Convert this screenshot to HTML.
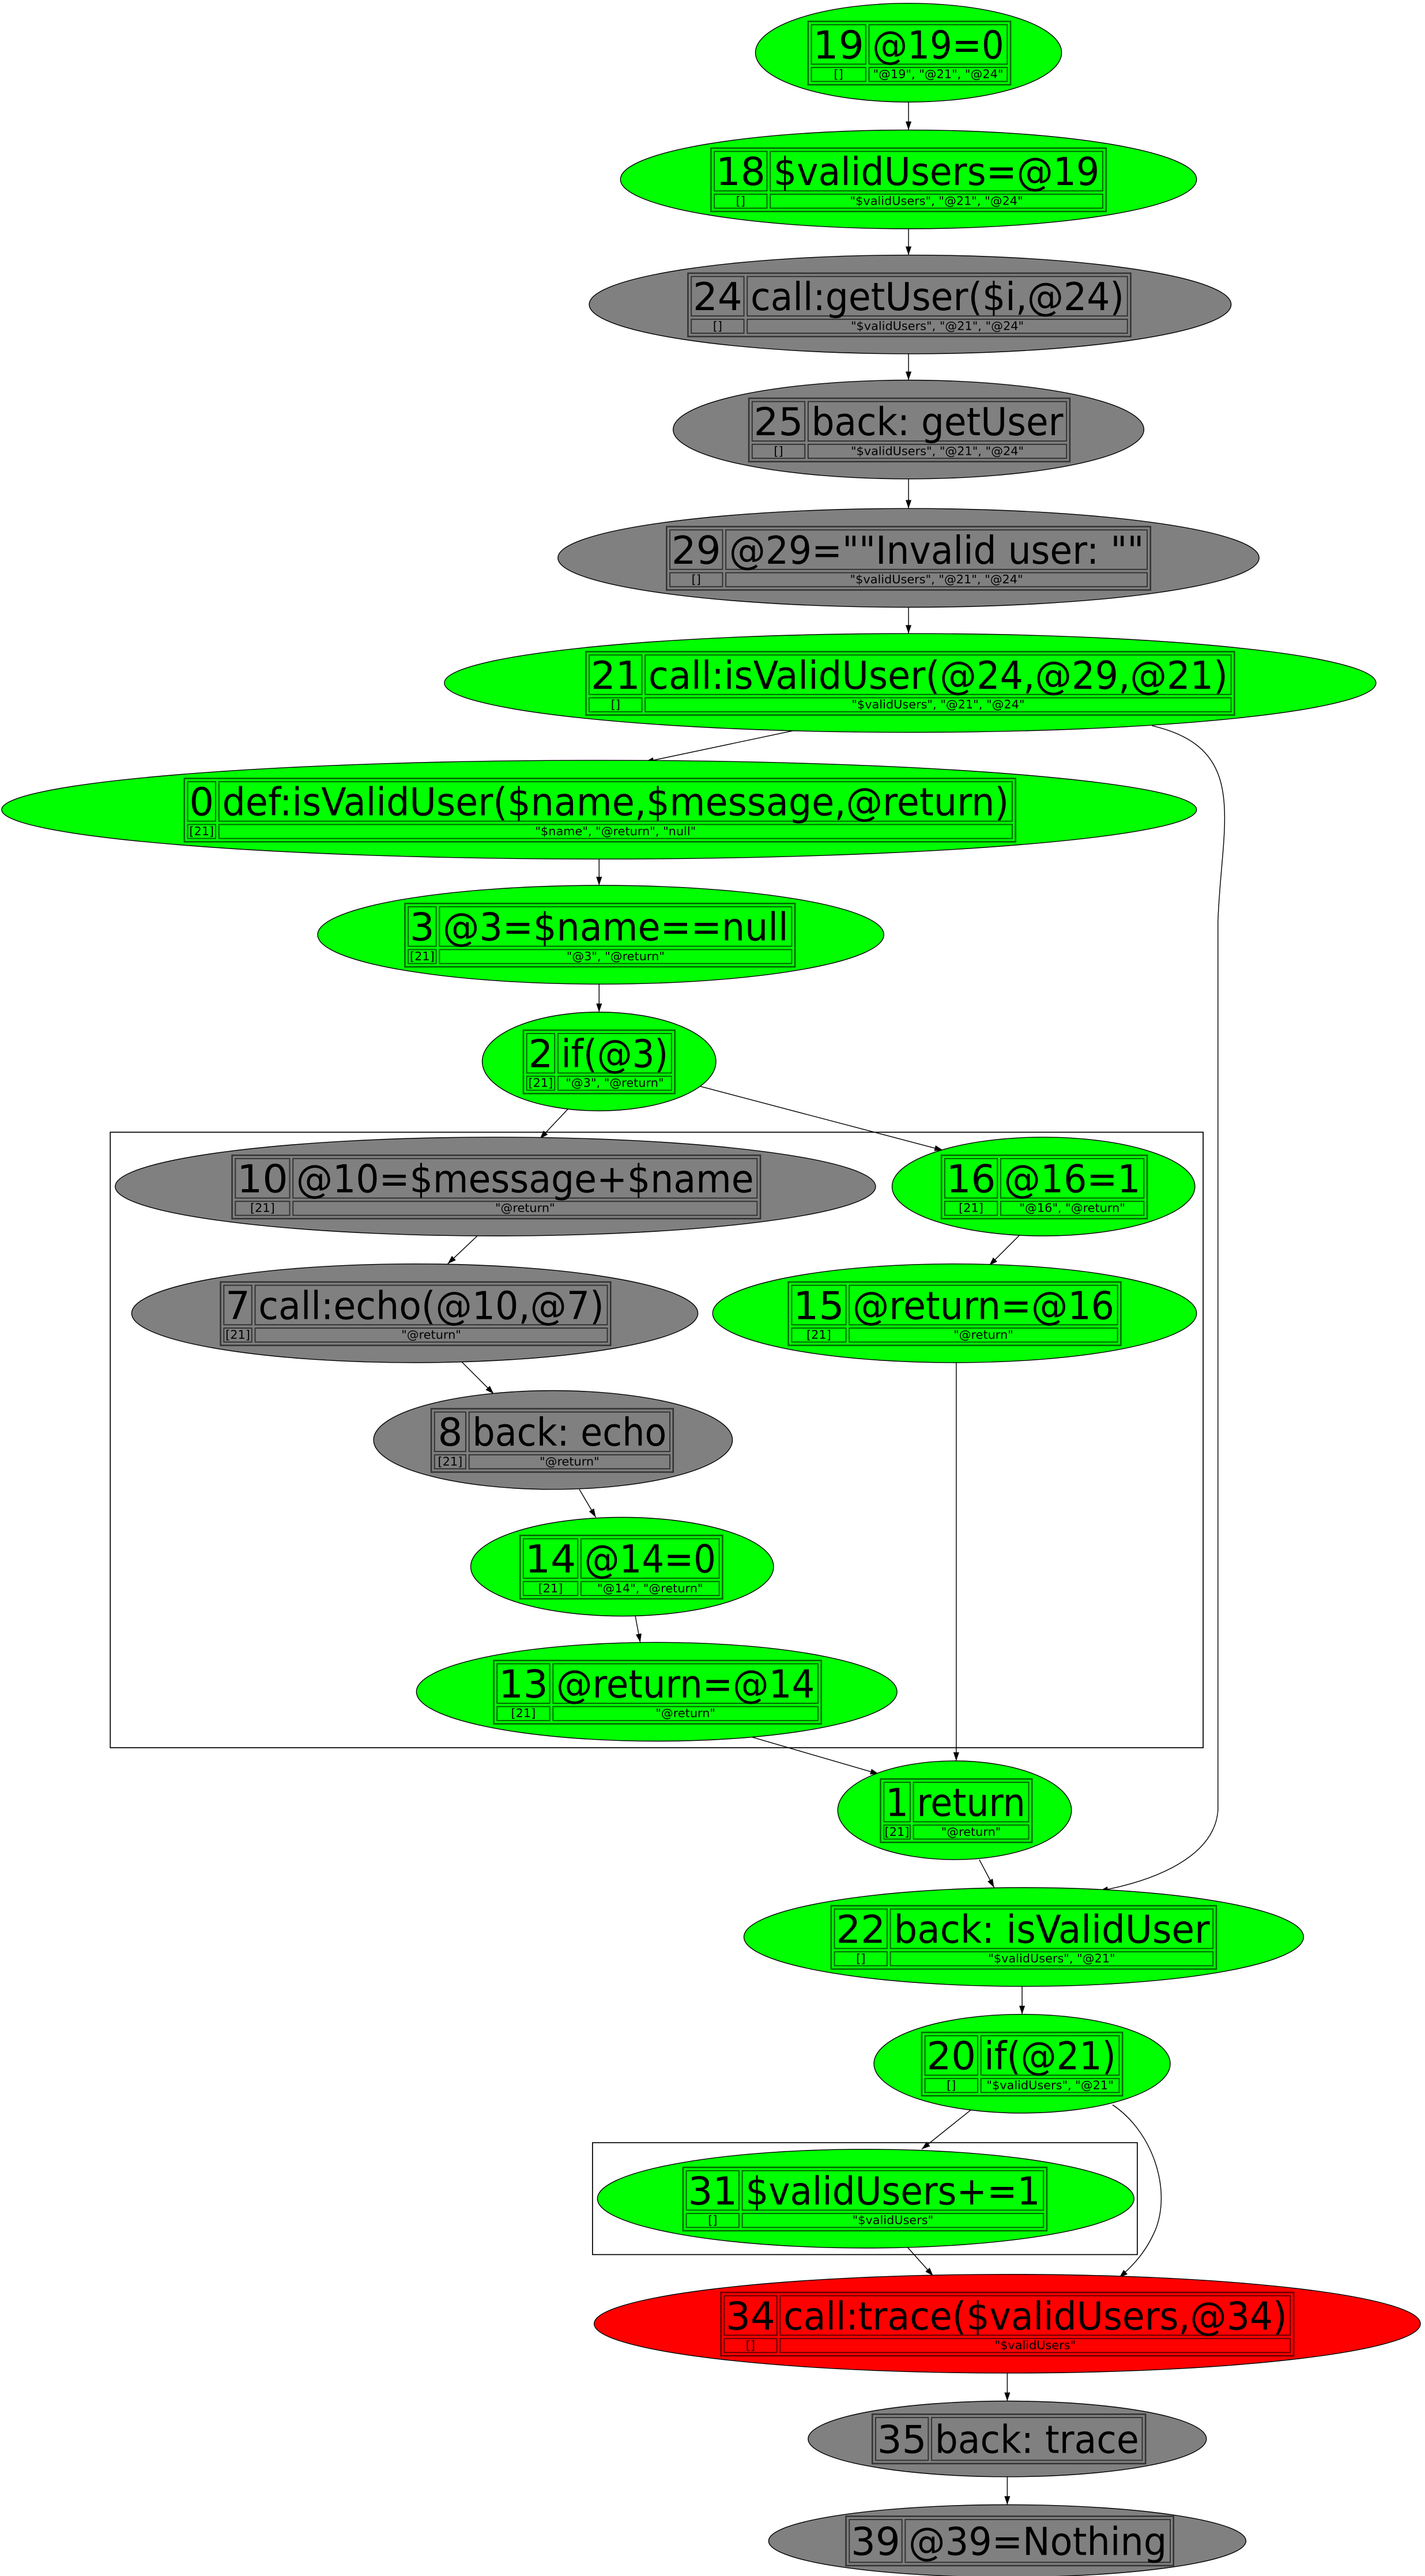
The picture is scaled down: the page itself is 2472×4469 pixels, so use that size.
<!DOCTYPE html>
<html><head><meta charset="utf-8"><style>
html,body{margin:0;padding:0;background:#fff;}
svg{display:block;}
text{font-family:"DejaVu Sans","Liberation Sans",sans-serif;fill:#000;}
.b{font-size:23.5px;}
.s{font-size:7.3px;}
.e{fill:none;stroke:#000;stroke-width:0.5;}
.t{fill:none;stroke:#000;stroke-opacity:0.6;stroke-width:0.9;}
.c{fill:none;stroke:#000;stroke-opacity:0.6;stroke-width:0.7;}
</style></head><body>
<svg width="2472" height="4469" viewBox="0 0 865.8 1565.3" preserveAspectRatio="none" xmlns="http://www.w3.org/2000/svg">
<defs><marker id="a" viewBox="0 0 10 10" refX="10" refY="5" markerWidth="5.2" markerHeight="5.2" markerUnits="userSpaceOnUse" orient="auto"><path d="M0,1.6 L10,5 L0,8.4 z" fill="#000"/></marker></defs>
<rect x="0" y="0" width="865.8" height="1565.3" fill="#fff"/>
<rect x="67" y="688" width="664" height="374" fill="none" stroke="#000" stroke-width="0.6"/>
<rect x="360" y="1302" width="331" height="68" fill="none" stroke="#000" stroke-width="0.6"/>
<g class="e" marker-end="url(#a)">
<path d="M552,62 L552,79"/>
<path d="M552,139 L552,155"/>
<path d="M552,215 L552,231"/>
<path d="M552,291 L552,309"/>
<path d="M552,369 L552,385"/>
<path d="M482,444 L392,463"/>
<path d="M700,441 C760,455 742,500 740,560 L740,1100 C738,1128 702,1143 668,1149"/>
<path d="M364,521 L364,538"/>
<path d="M364,598 L364,615"/>
<path d="M345,674 L328,692"/>
<path d="M425,660 L573,699"/>
<path d="M290,751 L272,768"/>
<path d="M280,827 L300,847"/>
<path d="M352,905 L362,922"/>
<path d="M386,982 L389,998"/>
<path d="M620,750 L601,769"/>
<path d="M581,828 L581,1070"/>
<path d="M455,1055 L534,1078"/>
<path d="M595,1130 L604,1147"/>
<path d="M621,1207 L621,1224"/>
<path d="M590,1282 L560,1306"/>
<path d="M676,1279 C700,1295 712,1330 702,1355 C696,1369 688,1377 680,1384"/>
<path d="M550,1364 L567,1383"/>
<path d="M612,1442 L612,1459"/>
<path d="M612,1505 L612,1522"/>
</g>
<g>
<ellipse cx="552" cy="32" rx="93" ry="30" fill="#00ff00" stroke="#000" stroke-width="0.5"/>
<rect class="t" x="491" y="13" width="123" height="38.5"/><rect class="c" x="493" y="15" width="33" height="24"/><rect class="c" x="528" y="15" width="84" height="24"/><rect class="c" x="493" y="41" width="33" height="8.5"/><rect class="c" x="528" y="41" width="84" height="8.5"/>
<text class="b" x="509.5" y="35.5" text-anchor="middle" textLength="31" lengthAdjust="spacingAndGlyphs">19</text><text class="b" x="570" y="35.5" text-anchor="middle" textLength="80" lengthAdjust="spacingAndGlyphs">@19=0</text>
<text class="s" x="509.5" y="47.5" text-anchor="middle">[]</text><text class="s" x="570" y="47.5" text-anchor="middle">"@19", "@21", "@24"</text>
<ellipse cx="552" cy="109" rx="175" ry="30" fill="#00ff00" stroke="#000" stroke-width="0.5"/>
<rect class="t" x="432" y="90" width="240" height="38.5"/><rect class="c" x="434" y="92" width="32" height="24"/><rect class="c" x="468" y="92" width="202" height="24"/><rect class="c" x="434" y="118" width="32" height="8.5"/><rect class="c" x="468" y="118" width="202" height="8.5"/>
<text class="b" x="450" y="112.5" text-anchor="middle" textLength="30" lengthAdjust="spacingAndGlyphs">18</text><text class="b" x="569" y="112.5" text-anchor="middle" textLength="198" lengthAdjust="spacingAndGlyphs">$validUsers=@19</text>
<text class="s" x="450" y="124.5" text-anchor="middle">[]</text><text class="s" x="569" y="124.5" text-anchor="middle">"$validUsers", "@21", "@24"</text>
<ellipse cx="553" cy="185" rx="195" ry="30" fill="#808080" stroke="#000" stroke-width="0.5"/>
<rect class="t" x="418" y="166" width="269" height="38.5"/><rect class="c" x="420" y="168" width="32" height="24"/><rect class="c" x="454" y="168" width="231" height="24"/><rect class="c" x="420" y="194" width="32" height="8.5"/><rect class="c" x="454" y="194" width="231" height="8.5"/>
<text class="b" x="436" y="188.5" text-anchor="middle" textLength="30" lengthAdjust="spacingAndGlyphs">24</text><text class="b" x="569.5" y="188.5" text-anchor="middle" textLength="227" lengthAdjust="spacingAndGlyphs">call:getUser($i,@24)</text>
<text class="s" x="436" y="200.5" text-anchor="middle">[]</text><text class="s" x="569.5" y="200.5" text-anchor="middle">"$validUsers", "@21", "@24"</text>
<ellipse cx="552" cy="261" rx="143" ry="30" fill="#808080" stroke="#000" stroke-width="0.5"/>
<rect class="t" x="455" y="242" width="195" height="38.5"/><rect class="c" x="457" y="244" width="32" height="24"/><rect class="c" x="491" y="244" width="157" height="24"/><rect class="c" x="457" y="270" width="32" height="8.5"/><rect class="c" x="491" y="270" width="157" height="8.5"/>
<text class="b" x="473" y="264.5" text-anchor="middle" textLength="30" lengthAdjust="spacingAndGlyphs">25</text><text class="b" x="569.5" y="264.5" text-anchor="middle" textLength="153" lengthAdjust="spacingAndGlyphs">back: getUser</text>
<text class="s" x="473" y="276.5" text-anchor="middle">[]</text><text class="s" x="569.5" y="276.5" text-anchor="middle">"$validUsers", "@21", "@24"</text>
<ellipse cx="552" cy="339" rx="213" ry="30" fill="#808080" stroke="#000" stroke-width="0.5"/>
<rect class="t" x="405" y="320" width="294" height="38.5"/><rect class="c" x="407" y="322" width="32" height="24"/><rect class="c" x="441" y="322" width="256" height="24"/><rect class="c" x="407" y="348" width="32" height="8.5"/><rect class="c" x="441" y="348" width="256" height="8.5"/>
<text class="b" x="423" y="342.5" text-anchor="middle" textLength="30" lengthAdjust="spacingAndGlyphs">29</text><text class="b" x="569" y="342.5" text-anchor="middle" textLength="252" lengthAdjust="spacingAndGlyphs">@29=""Invalid user: ""</text>
<text class="s" x="423" y="354.5" text-anchor="middle">[]</text><text class="s" x="569" y="354.5" text-anchor="middle">"$validUsers", "@21", "@24"</text>
<ellipse cx="553" cy="415" rx="283" ry="30" fill="#00ff00" stroke="#000" stroke-width="0.5"/>
<rect class="t" x="356" y="396" width="394" height="38.5"/><rect class="c" x="358" y="398" width="32" height="24"/><rect class="c" x="392" y="398" width="356" height="24"/><rect class="c" x="358" y="424" width="32" height="8.5"/><rect class="c" x="392" y="424" width="356" height="8.5"/>
<text class="b" x="374" y="418.5" text-anchor="middle" textLength="30" lengthAdjust="spacingAndGlyphs">21</text><text class="b" x="570" y="418.5" text-anchor="middle" textLength="352" lengthAdjust="spacingAndGlyphs">call:isValidUser(@24,@29,@21)</text>
<text class="s" x="374" y="430.5" text-anchor="middle">[]</text><text class="s" x="570" y="430.5" text-anchor="middle">"$validUsers", "@21", "@24"</text>
<ellipse cx="364" cy="492" rx="363" ry="30" fill="#00ff00" stroke="#000" stroke-width="0.5"/>
<rect class="t" x="112" y="473" width="505" height="38.5"/><rect class="c" x="114" y="475" width="17" height="24"/><rect class="c" x="133" y="475" width="482" height="24"/><rect class="c" x="114" y="501" width="17" height="8.5"/><rect class="c" x="133" y="501" width="482" height="8.5"/>
<text class="b" x="122.5" y="495.5" text-anchor="middle" textLength="15" lengthAdjust="spacingAndGlyphs">0</text><text class="b" x="374" y="495.5" text-anchor="middle" textLength="478" lengthAdjust="spacingAndGlyphs">def:isValidUser($name,$message,@return)</text>
<text class="s" x="122.5" y="507.5" text-anchor="middle">[21]</text><text class="s" x="374" y="507.5" text-anchor="middle">"$name", "@return", "null"</text>
<ellipse cx="365" cy="568" rx="172" ry="30" fill="#00ff00" stroke="#000" stroke-width="0.5"/>
<rect class="t" x="246" y="549" width="237" height="38.5"/><rect class="c" x="248" y="551" width="17" height="24"/><rect class="c" x="267" y="551" width="214" height="24"/><rect class="c" x="248" y="577" width="17" height="8.5"/><rect class="c" x="267" y="577" width="214" height="8.5"/>
<text class="b" x="256.5" y="571.5" text-anchor="middle" textLength="15" lengthAdjust="spacingAndGlyphs">3</text><text class="b" x="374" y="571.5" text-anchor="middle" textLength="210" lengthAdjust="spacingAndGlyphs">@3=$name==null</text>
<text class="s" x="256.5" y="583.5" text-anchor="middle">[21]</text><text class="s" x="374" y="583.5" text-anchor="middle">"@3", "@return"</text>
<ellipse cx="364" cy="645" rx="71" ry="30" fill="#00ff00" stroke="#000" stroke-width="0.5"/>
<rect class="t" x="318" y="626" width="92" height="38.5"/><rect class="c" x="320" y="628" width="17" height="24"/><rect class="c" x="339" y="628" width="69" height="24"/><rect class="c" x="320" y="654" width="17" height="8.5"/><rect class="c" x="339" y="654" width="69" height="8.5"/>
<text class="b" x="328.5" y="648.5" text-anchor="middle" textLength="15" lengthAdjust="spacingAndGlyphs">2</text><text class="b" x="373.5" y="648.5" text-anchor="middle" textLength="65" lengthAdjust="spacingAndGlyphs">if(@3)</text>
<text class="s" x="328.5" y="660.5" text-anchor="middle">[21]</text><text class="s" x="373.5" y="660.5" text-anchor="middle">"@3", "@return"</text>
<ellipse cx="301" cy="721" rx="231" ry="30" fill="#808080" stroke="#000" stroke-width="0.5"/>
<rect class="t" x="141" y="702" width="321" height="38.5"/><rect class="c" x="143" y="704" width="33" height="24"/><rect class="c" x="178" y="704" width="282" height="24"/><rect class="c" x="143" y="730" width="33" height="8.5"/><rect class="c" x="178" y="730" width="282" height="8.5"/>
<text class="b" x="159.5" y="724.5" text-anchor="middle" textLength="31" lengthAdjust="spacingAndGlyphs">10</text><text class="b" x="319" y="724.5" text-anchor="middle" textLength="278" lengthAdjust="spacingAndGlyphs">@10=$message+$name</text>
<text class="s" x="159.5" y="736.5" text-anchor="middle">[21]</text><text class="s" x="319" y="736.5" text-anchor="middle">"@return"</text>
<ellipse cx="634" cy="721" rx="92" ry="30" fill="#00ff00" stroke="#000" stroke-width="0.5"/>
<rect class="t" x="572" y="702" width="125" height="38.5"/><rect class="c" x="574" y="704" width="32" height="24"/><rect class="c" x="608" y="704" width="87" height="24"/><rect class="c" x="574" y="730" width="32" height="8.5"/><rect class="c" x="608" y="730" width="87" height="8.5"/>
<text class="b" x="590" y="724.5" text-anchor="middle" textLength="30" lengthAdjust="spacingAndGlyphs">16</text><text class="b" x="651.5" y="724.5" text-anchor="middle" textLength="83" lengthAdjust="spacingAndGlyphs">@16=1</text>
<text class="s" x="590" y="736.5" text-anchor="middle">[21]</text><text class="s" x="651.5" y="736.5" text-anchor="middle">"@16", "@return"</text>
<ellipse cx="252" cy="798" rx="172" ry="30" fill="#808080" stroke="#000" stroke-width="0.5"/>
<rect class="t" x="134" y="779" width="237" height="38.5"/><rect class="c" x="136" y="781" width="17" height="24"/><rect class="c" x="155" y="781" width="214" height="24"/><rect class="c" x="136" y="807" width="17" height="8.5"/><rect class="c" x="155" y="807" width="214" height="8.5"/>
<text class="b" x="144.5" y="801.5" text-anchor="middle" textLength="15" lengthAdjust="spacingAndGlyphs">7</text><text class="b" x="262" y="801.5" text-anchor="middle" textLength="210" lengthAdjust="spacingAndGlyphs">call:echo(@10,@7)</text>
<text class="s" x="144.5" y="813.5" text-anchor="middle">[21]</text><text class="s" x="262" y="813.5" text-anchor="middle">"@return"</text>
<ellipse cx="580" cy="798" rx="147" ry="30" fill="#00ff00" stroke="#000" stroke-width="0.5"/>
<rect class="t" x="479" y="779" width="202" height="38.5"/><rect class="c" x="481" y="781" width="33" height="24"/><rect class="c" x="516" y="781" width="163" height="24"/><rect class="c" x="481" y="807" width="33" height="8.5"/><rect class="c" x="516" y="807" width="163" height="8.5"/>
<text class="b" x="497.5" y="801.5" text-anchor="middle" textLength="31" lengthAdjust="spacingAndGlyphs">15</text><text class="b" x="597.5" y="801.5" text-anchor="middle" textLength="159" lengthAdjust="spacingAndGlyphs">@return=@16</text>
<text class="s" x="497.5" y="813.5" text-anchor="middle">[21]</text><text class="s" x="597.5" y="813.5" text-anchor="middle">"@return"</text>
<ellipse cx="336" cy="875" rx="109" ry="30" fill="#808080" stroke="#000" stroke-width="0.5"/>
<rect class="t" x="262" y="856" width="147" height="38.5"/><rect class="c" x="264" y="858" width="19" height="24"/><rect class="c" x="285" y="858" width="122" height="24"/><rect class="c" x="264" y="884" width="19" height="8.5"/><rect class="c" x="285" y="884" width="122" height="8.5"/>
<text class="b" x="273.5" y="878.5" text-anchor="middle" textLength="15" lengthAdjust="spacingAndGlyphs">8</text><text class="b" x="346" y="878.5" text-anchor="middle" textLength="118" lengthAdjust="spacingAndGlyphs">back: echo</text>
<text class="s" x="273.5" y="890.5" text-anchor="middle">[21]</text><text class="s" x="346" y="890.5" text-anchor="middle">"@return"</text>
<ellipse cx="378" cy="952" rx="92" ry="30" fill="#00ff00" stroke="#000" stroke-width="0.5"/>
<rect class="t" x="316" y="933" width="123" height="38.5"/><rect class="c" x="318" y="935" width="33" height="24"/><rect class="c" x="353" y="935" width="84" height="24"/><rect class="c" x="318" y="961" width="33" height="8.5"/><rect class="c" x="353" y="961" width="84" height="8.5"/>
<text class="b" x="334.5" y="955.5" text-anchor="middle" textLength="31" lengthAdjust="spacingAndGlyphs">14</text><text class="b" x="395" y="955.5" text-anchor="middle" textLength="80" lengthAdjust="spacingAndGlyphs">@14=0</text>
<text class="s" x="334.5" y="967.5" text-anchor="middle">[21]</text><text class="s" x="395" y="967.5" text-anchor="middle">"@14", "@return"</text>
<ellipse cx="399" cy="1028" rx="146" ry="30" fill="#00ff00" stroke="#000" stroke-width="0.5"/>
<rect class="t" x="300" y="1009" width="199" height="38.5"/><rect class="c" x="302" y="1011" width="32" height="24"/><rect class="c" x="336" y="1011" width="161" height="24"/><rect class="c" x="302" y="1037" width="32" height="8.5"/><rect class="c" x="336" y="1037" width="161" height="8.5"/>
<text class="b" x="318" y="1031.5" text-anchor="middle" textLength="30" lengthAdjust="spacingAndGlyphs">13</text><text class="b" x="416.5" y="1031.5" text-anchor="middle" textLength="157" lengthAdjust="spacingAndGlyphs">@return=@14</text>
<text class="s" x="318" y="1043.5" text-anchor="middle">[21]</text><text class="s" x="416.5" y="1043.5" text-anchor="middle">"@return"</text>
<ellipse cx="580" cy="1100" rx="71" ry="30" fill="#00ff00" stroke="#000" stroke-width="0.5"/>
<rect class="t" x="535" y="1081" width="92" height="38.5"/><rect class="c" x="537" y="1083" width="16" height="24"/><rect class="c" x="555" y="1083" width="70" height="24"/><rect class="c" x="537" y="1109" width="16" height="8.5"/><rect class="c" x="555" y="1109" width="70" height="8.5"/>
<text class="b" x="545" y="1103.5" text-anchor="middle" textLength="14" lengthAdjust="spacingAndGlyphs">1</text><text class="b" x="590" y="1103.5" text-anchor="middle" textLength="66" lengthAdjust="spacingAndGlyphs">return</text>
<text class="s" x="545" y="1115.5" text-anchor="middle">[21]</text><text class="s" x="590" y="1115.5" text-anchor="middle">"@return"</text>
<ellipse cx="622" cy="1177" rx="170" ry="30" fill="#00ff00" stroke="#000" stroke-width="0.5"/>
<rect class="t" x="505" y="1158" width="234" height="38.5"/><rect class="c" x="507" y="1160" width="32" height="24"/><rect class="c" x="541" y="1160" width="196" height="24"/><rect class="c" x="507" y="1186" width="32" height="8.5"/><rect class="c" x="541" y="1186" width="196" height="8.5"/>
<text class="b" x="523" y="1180.5" text-anchor="middle" textLength="30" lengthAdjust="spacingAndGlyphs">22</text><text class="b" x="639" y="1180.5" text-anchor="middle" textLength="192" lengthAdjust="spacingAndGlyphs">back: isValidUser</text>
<text class="s" x="523" y="1192.5" text-anchor="middle">[]</text><text class="s" x="639" y="1192.5" text-anchor="middle">"$validUsers", "@21"</text>
<ellipse cx="621" cy="1254" rx="90" ry="30" fill="#00ff00" stroke="#000" stroke-width="0.5"/>
<rect class="t" x="560" y="1235" width="122" height="38.5"/><rect class="c" x="562" y="1237" width="32" height="24"/><rect class="c" x="596" y="1237" width="84" height="24"/><rect class="c" x="562" y="1263" width="32" height="8.5"/><rect class="c" x="596" y="1263" width="84" height="8.5"/>
<text class="b" x="578" y="1257.5" text-anchor="middle" textLength="30" lengthAdjust="spacingAndGlyphs">20</text><text class="b" x="638" y="1257.5" text-anchor="middle" textLength="80" lengthAdjust="spacingAndGlyphs">if(@21)</text>
<text class="s" x="578" y="1269.5" text-anchor="middle">[]</text><text class="s" x="638" y="1269.5" text-anchor="middle">"$validUsers", "@21"</text>
<ellipse cx="526" cy="1336" rx="163" ry="30" fill="#00ff00" stroke="#000" stroke-width="0.5"/>
<rect class="t" x="415" y="1317" width="221" height="38.5"/><rect class="c" x="417" y="1319" width="32" height="24"/><rect class="c" x="451" y="1319" width="183" height="24"/><rect class="c" x="417" y="1345" width="32" height="8.5"/><rect class="c" x="451" y="1345" width="183" height="8.5"/>
<text class="b" x="433" y="1339.5" text-anchor="middle" textLength="30" lengthAdjust="spacingAndGlyphs">31</text><text class="b" x="542.5" y="1339.5" text-anchor="middle" textLength="179" lengthAdjust="spacingAndGlyphs">$validUsers+=1</text>
<text class="s" x="433" y="1351.5" text-anchor="middle">[]</text><text class="s" x="542.5" y="1351.5" text-anchor="middle">"$validUsers"</text>
<ellipse cx="612" cy="1412" rx="251" ry="30" fill="#ff0000" stroke="#000" stroke-width="0.5"/>
<rect class="t" x="438" y="1393" width="348" height="38.5"/><rect class="c" x="440" y="1395" width="32" height="24"/><rect class="c" x="474" y="1395" width="310" height="24"/><rect class="c" x="440" y="1421" width="32" height="8.5"/><rect class="c" x="474" y="1421" width="310" height="8.5"/>
<text class="b" x="456" y="1415.5" text-anchor="middle" textLength="30" lengthAdjust="spacingAndGlyphs">34</text><text class="b" x="629" y="1415.5" text-anchor="middle" textLength="306" lengthAdjust="spacingAndGlyphs">call:trace($validUsers,@34)</text>
<text class="s" x="456" y="1427.5" text-anchor="middle">[]</text><text class="s" x="629" y="1427.5" text-anchor="middle">"$validUsers"</text>
<ellipse cx="612" cy="1482" rx="121" ry="23" fill="#808080" stroke="#000" stroke-width="0.5"/>
<rect class="t" x="530" y="1467" width="166" height="30"/><rect class="c" x="532" y="1469" width="32" height="26"/><rect class="c" x="566" y="1469" width="128" height="26"/>
<text class="b" x="548" y="1490.5" text-anchor="middle" textLength="30" lengthAdjust="spacingAndGlyphs">35</text><text class="b" x="630" y="1490.5" text-anchor="middle" textLength="124" lengthAdjust="spacingAndGlyphs">back: trace</text>
<ellipse cx="612" cy="1544" rx="145" ry="22" fill="#808080" stroke="#000" stroke-width="0.5"/>
<rect class="t" x="514" y="1529" width="199" height="30"/><rect class="c" x="516" y="1531" width="32" height="26"/><rect class="c" x="550" y="1531" width="161" height="26"/>
<text class="b" x="532" y="1552.5" text-anchor="middle" textLength="30" lengthAdjust="spacingAndGlyphs">39</text><text class="b" x="630.5" y="1552.5" text-anchor="middle" textLength="157" lengthAdjust="spacingAndGlyphs">@39=Nothing</text>
</g>
</svg>
</body></html>
